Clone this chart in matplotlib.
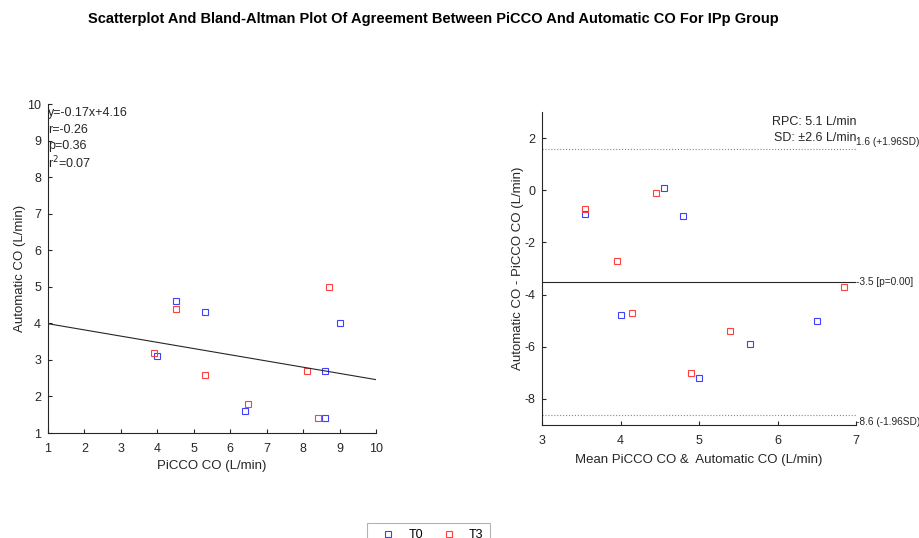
import numpy as np
import matplotlib.pyplot as plt
from matplotlib.lines import Line2D

plt.rcParams['font.family'] = ['Liberation Sans', 'DejaVu Sans']
plt.rcParams['axes.unicode_minus'] = False

# PiCCO CO vs automatic CO (L/min)
picco_t0 = [4.5, 5.3, 4.0, 9.0, 8.6, 6.4, 8.6]
auto_t0 = [4.6, 4.3, 3.1, 4.0, 2.7, 1.6, 1.4]
picco_t3 = [8.7, 4.5, 3.9, 5.3, 8.1, 6.5, 8.4]
auto_t3 = [5.0, 4.4, 3.2, 2.6, 2.7, 1.8, 1.4]

# regression / agreement stats as printed on the chart
slope, intercept = -0.17, 4.16
bias, upper_loa, lower_loa = -3.5, 1.6, -8.6

fig = plt.figure(figsize=(9.19, 5.38), dpi=100)
ax1 = fig.add_axes([48/919, 1-433/538, 328/919, 329/538])
ax2 = fig.add_axes([542/919, 1-425/538, 314/919, 313/538])

dark = '#262626'
blue = '#4040ff'
red = '#ff4040'
mk = dict(marker='s', linestyle='none', markersize=4.5, markerfacecolor='none', markeredgewidth=0.8)

# scatter plot
ax1.plot(picco_t0, auto_t0, color=blue, **mk)
ax1.plot(picco_t3, auto_t3, color=red, **mk)
xs = np.array([1, 10])
ax1.plot(xs, slope * xs + intercept, color=dark, lw=0.8)
ax1.set_xlim(1, 10)
ax1.set_ylim(1, 10)
ax1.set_xticks(range(1, 11))
ax1.set_yticks(range(1, 11))
ax1.set_xlabel('PiCCO CO (L/min)', fontsize=9.5, color=dark, labelpad=4)
ax1.set_ylabel('Automatic CO (L/min)', fontsize=9.5, color=dark, labelpad=0.5)
stats = ['y=-0.17x+4.16', 'r=-0.26', 'p=0.36', 'r$^2$=0.07']
for i, s in enumerate(stats):
    ax1.text(0.0, 1 - (9 + 16.7 * i) / 329, s, transform=ax1.transAxes,
             fontsize=9, color=dark, va='center', ha='left')

# Bland-Altman
mean_t0 = (np.array(picco_t0) + np.array(auto_t0)) / 2
diff_t0 = np.array(auto_t0) - np.array(picco_t0)
mean_t3 = (np.array(picco_t3) + np.array(auto_t3)) / 2
diff_t3 = np.array(auto_t3) - np.array(picco_t3)
ax2.plot(mean_t0, diff_t0, color=blue, **mk)
ax2.plot(mean_t3, diff_t3, color=red, **mk)
ax2.axhline(bias, color=dark, lw=0.8)
ax2.axhline(upper_loa, color='#888888', lw=0.8, ls=':')
ax2.axhline(lower_loa, color='#888888', lw=0.8, ls=':')
ax2.set_xlim(3, 7)
ax2.set_ylim(-9, 3)
ax2.set_xticks(range(3, 8))
ax2.set_yticks(range(-8, 3, 2))
ax2.set_xlabel('Mean PiCCO CO &  Automatic CO (L/min)', fontsize=9.5, color=dark, labelpad=5)
ax2.set_ylabel('Automatic CO - PiCCO CO (L/min)', fontsize=9.5, color=dark, labelpad=0)
ax2.text(7, 2.6, 'RPC: 5.1 L/min', ha='right', va='center', fontsize=9, color=dark)
ax2.text(7, 2.0, 'SD: \u00b12.6 L/min', ha='right', va='center', fontsize=9, color=dark)
ax2.text(7, upper_loa + 0.25, '1.6 (+1.96SD)', ha='left', va='center', fontsize=7.3, color=dark)
ax2.text(7, bias, '-3.5 [p=0.00]', ha='left', va='center', fontsize=7.3, color=dark)
ax2.text(7, lower_loa - 0.3, '-8.6 (-1.96SD)', ha='left', va='center', fontsize=7.3, color=dark)

for ax in (ax1, ax2):
    ax.spines['top'].set_visible(False)
    ax.spines['right'].set_visible(False)
    for sp in ('left', 'bottom'):
        ax.spines[sp].set_color(dark)
        ax.spines[sp].set_linewidth(0.8)
    ax.tick_params(direction='in', length=3, width=0.8, colors=dark, labelsize=9, pad=5)
    ax.tick_params(axis='x', pad=7)

fig.suptitle('Scatterplot And Bland-Altman Plot Of Agreement Between PiCCO And Automatic CO For IPp Group',
             x=433/919, y=1-19/538, va='center', fontsize=10.5, fontweight='bold')

handles = [Line2D([], [], color=blue, **mk), Line2D([], [], color=red, **mk)]
leg = fig.legend(handles, ['T0', 'T3'], loc='upper left', bbox_to_anchor=(367/919, 1-523/538),
                 borderaxespad=0, ncol=2, fontsize=9, frameon=True, fancybox=False, borderpad=0.5,
                 handlelength=2.4, columnspacing=0.9, handletextpad=0.4)
leg.get_frame().set_edgecolor('#a0a0a0')
leg.get_frame().set_linewidth(0.8)

fig.savefig('out.png', dpi=100)
